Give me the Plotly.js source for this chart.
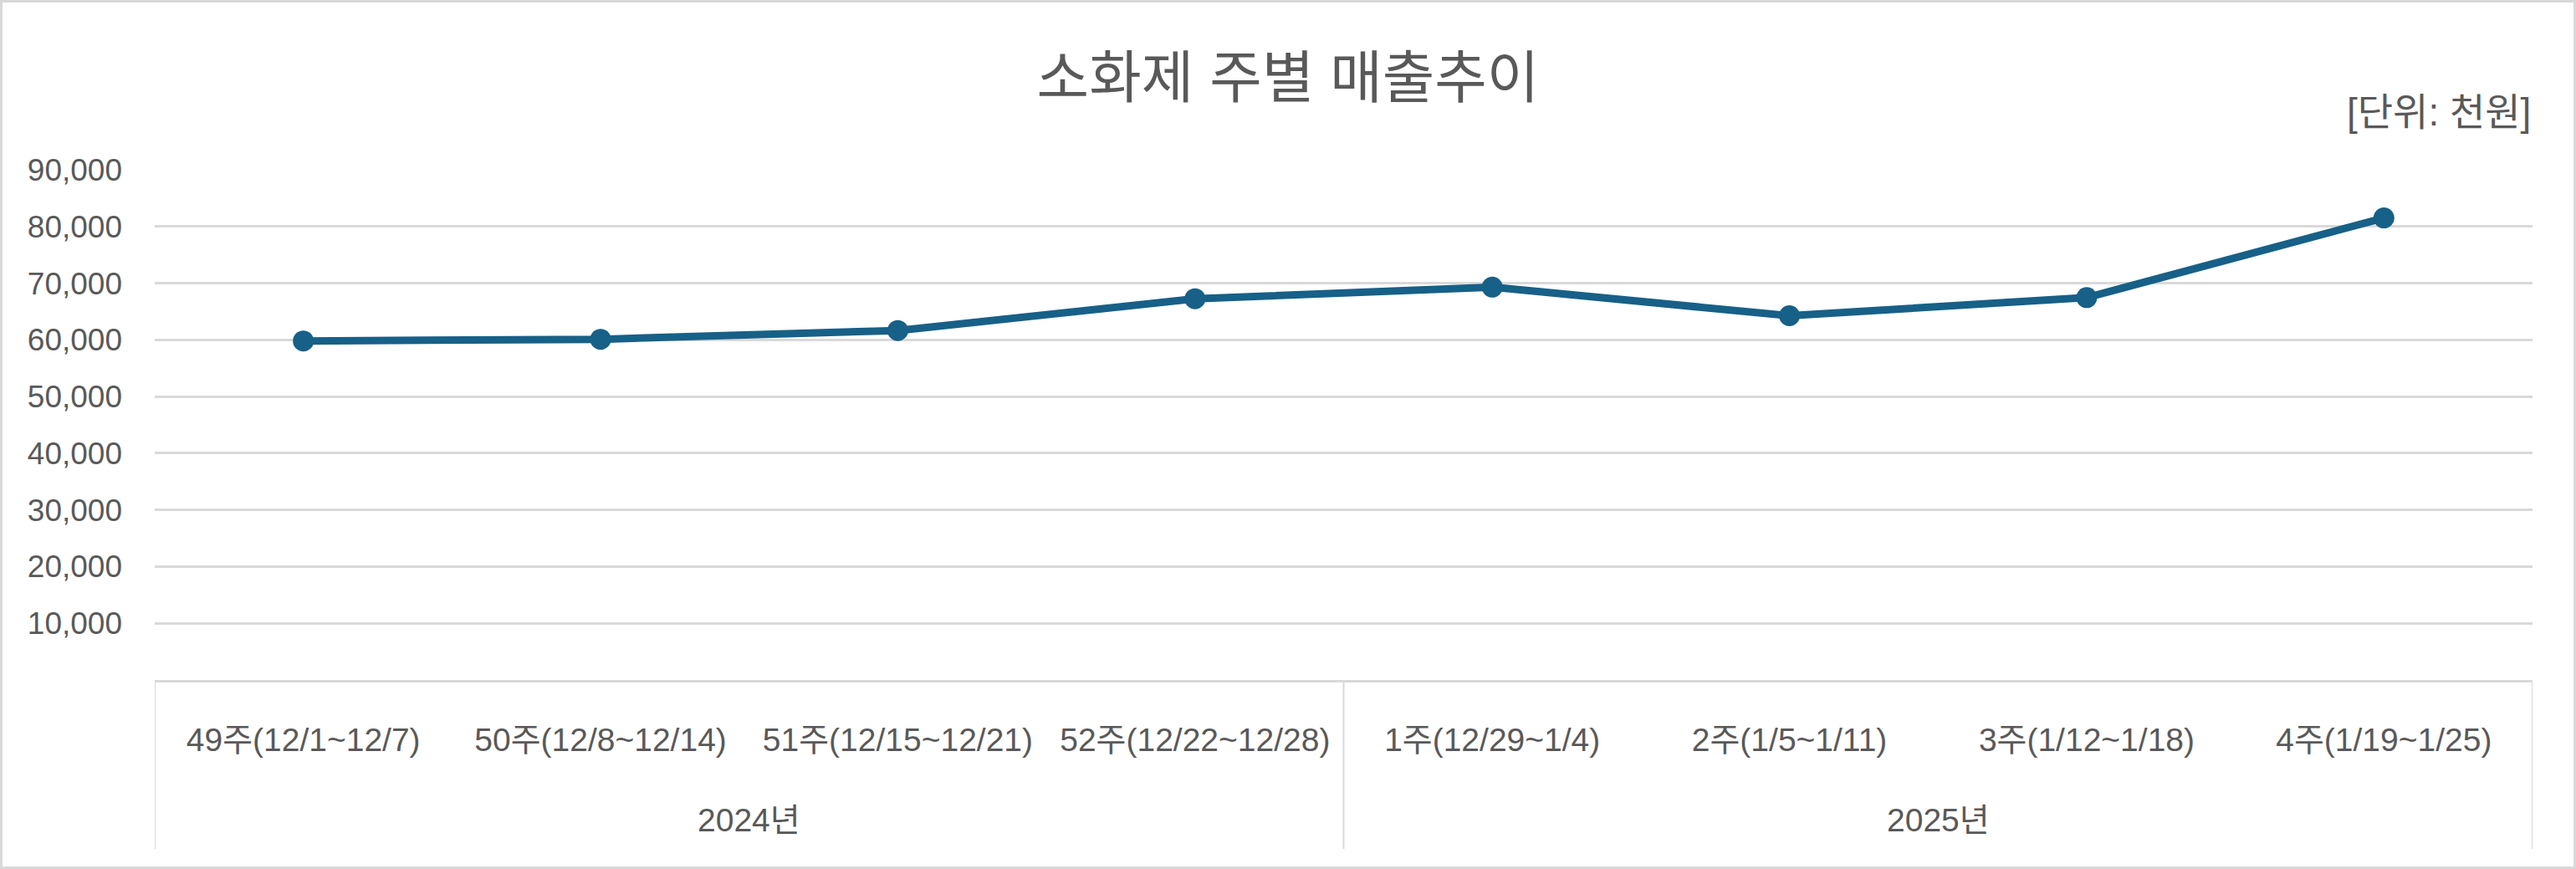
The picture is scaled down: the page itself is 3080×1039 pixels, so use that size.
<!DOCTYPE html>
<html>
<head>
<meta charset="utf-8">
<script src="https://cdn.plot.ly/plotly-3.0.1.min.js"></script>
<style>
    body { margin: 0; background: #fff; }
    #chart { width: 3080px; height: 1039px; }
    #frame {
        position: absolute; left: 0; top: 0;
        width: 3080px; height: 1039px;
        box-sizing: border-box;
        border: 3px solid #d9d9d9;
        pointer-events: none;
    }
</style>
</head>
<body>
<div id="chart"></div>
<div id="frame"></div>
<script>
// 소화제 주별 매출추이 (단위: 천원)

const years = ['2024년', '2024년', '2024년', '2024년', '2025년', '2025년', '2025년', '2025년'];
const weeks = ['49주(12/1~12/7)', '50주(12/8~12/14)', '51주(12/15~12/21)', '52주(12/22~12/28)',
               '1주(12/29~1/4)', '2주(1/5~1/11)', '3주(1/12~1/18)', '4주(1/19~1/25)'];
const sales = [59800, 60100, 61650, 67250, 69300, 64250, 67450, 81500];
const yTicks = [10000, 20000, 30000, 40000, 50000, 60000, 70000, 80000, 90000];

const FONT = 'Liberation Sans, Noto Sans CJK KR, sans-serif';
const TEXT = '#595959';
const GRID = '#d9d9d9';

// Group boundaries and centers for the year row under the axis
const groups = [];
years.forEach(function(y, i) {
    const last = groups[groups.length - 1];
    if (last && last.name === y) {
        last.end = i;
    } else {
        groups.push({ name: y, start: i, end: i });
    }
});

const shapes = [];
const annotations = [];

groups.forEach(function(g, k) {
    if (k === 0) {
        shapes.push(divider(g.start - 0.5));
    }
    shapes.push(divider(g.end + 0.5));
    annotations.push({
        text: g.name,
        x: (g.start + g.end) / 2,
        xref: 'x',
        y: -0.275,
        yref: 'paper',
        yanchor: 'middle',
        showarrow: false,
        font: { family: FONT, size: 39, color: TEXT }
    });
});

function divider(pos) {
    return {
        type: 'line',
        xref: 'x', yref: 'paper',
        x0: pos, x1: pos,
        y0: 0, y1: -0.331,
        line: { color: GRID, width: 2 }
    };
}

annotations.push({
    text: '[단위: 천원]',
    x: 1, xref: 'paper', xanchor: 'right',
    y: 1.113, yref: 'paper', yanchor: 'middle',
    showarrow: false,
    font: { family: FONT, size: 46, color: TEXT }
});

Plotly.newPlot('chart', [{
    x: weeks,
    y: sales,
    type: 'scatter',
    mode: 'lines+markers',
    line: { color: '#176087', width: 9 },
    marker: { color: '#176087', size: 25 },
    hoverinfo: 'x+y'
}], {
    width: 3080,
    height: 1039,
    paper_bgcolor: '#ffffff',
    plot_bgcolor: '#ffffff',
    showlegend: false,
    title: {
        text: '소화제 주별 매출추이',
        font: { family: FONT, size: 68, color: TEXT },
        x: 0.5, xref: 'container', xanchor: 'center',
        y: 0.9105, yref: 'container', yanchor: 'middle'
    },
    margin: { l: 185, r: 52, t: 203, b: 226 },
    xaxis: {
        type: 'category',
        range: [-0.5, weeks.length - 0.5],
        showgrid: false,
        zeroline: false,
        showline: true,
        linecolor: GRID,
        linewidth: 3,
        ticks: '',
        ticklabelstandoff: 35,
        tickfont: { family: FONT, size: 39, color: TEXT }
    },
    yaxis: {
        range: [0, 90000],
        tickvals: yTicks,
        tickformat: ',d',
        showgrid: true,
        gridcolor: GRID,
        gridwidth: 2.5,
        zeroline: false,
        showline: false,
        ticks: '',
        ticklabelstandoff: 38,
        tickfont: { family: FONT, size: 37, color: TEXT }
    },
    shapes: shapes,
    annotations: annotations
}, {
    displayModeBar: false,
    responsive: false
});
</script>
</body>
</html>
